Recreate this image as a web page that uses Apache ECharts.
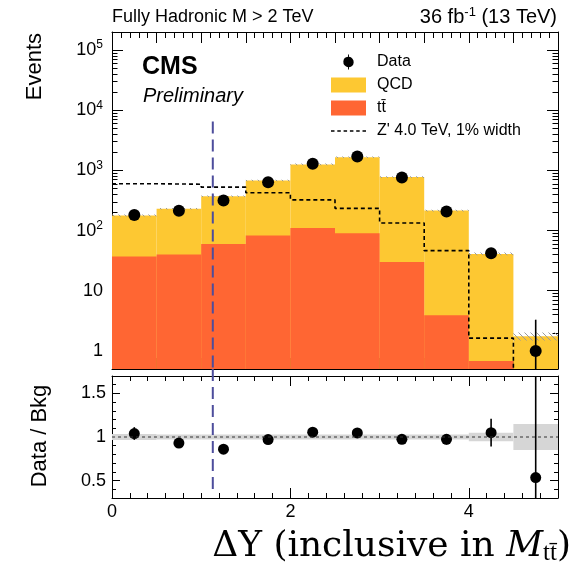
<!DOCTYPE html>
<html>
<head>
<meta charset="utf-8">
<script src="https://cdn.jsdelivr.net/npm/echarts@6/dist/echarts.min.js"></script>
<style>
html,body{margin:0;padding:0;background:#fff}
#main{width:578px;height:569px}
</style>
</head>
<body>
<div id="main"></div>
<script>
// histogram binning in delta Y
var binEdges = [0, 0.5, 1, 1.5, 2, 2.5, 3, 3.5, 4, 4.5, 5];
var binCenters = [0.25, 0.75, 1.25, 1.75, 2.25, 2.75, 3.25, 3.75, 4.25, 4.75];

// stacked backgrounds (events per bin)
var ttbar = [37, 40, 60, 83, 110, 90, 30, 3.9, 0.68, 0];
var qcd = [141, 190, 312, 597, 1150, 1570, 745, 211, 40.3, 1.75];
var bkgUnc = [0.035, 0.03, 0.03, 0.03, 0.03, 0.03, 0.03, 0.03, 0.05, 0.15];

// signal template Z' 4 TeV (dashed step line)
var zprime = [600, 590, 527, 425, 324, 234, 134, 46.4, 1.63, 0.1];

// observed data
var dataCounts = [182, 213, 316, 638, 1290, 1700, 760, 208, 42, 1];
var dataErrUp = [14, 15, 18, 25, 36, 41, 28, 14, 7, 2.3];
var dataErrDown = [13, 14, 17, 25, 35, 41, 27, 14, 6, 1];

// ratio panel
var ratio = [1.04, 0.93, 0.86, 0.97, 1.055, 1.047, 0.973, 0.973, 1.05, 0.535];
var ratioErr = [0.073, 0.048, 0.04, 0.035, 0.03, 0.03, 0.035, 0.06, 0.16, 1.5];

// vertical dashed marker
var cutX = 1.13;
var cutTopEvents = 6500;
var cutBottomRatio = 0.4;

// tick positions / labels
var logMajorTicks = [1, 10, 100, 1000, 10000, 100000];
var ratioLabelTicks = [0.5, 1, 1.5];
var xLabelTicks = [0, 2, 4];

var yMin = 0.5, yMax = 2e5;
var rMin = 0.3, rMax = 1.7;

var logMinorTicks = [];
for (var e = -1; e <= 5; e++) {
  for (var m = 2; m <= 9; m++) logMinorTicks.push(+(m * Math.pow(10, e)).toPrecision(3));
}
var upperXMajor = [], upperXMinor = [], lowerXMinor = [], ratioMinor = [];
for (var k = 0; k <= 10; k++) upperXMajor.push(k * 0.5);
for (k = 0; k <= 50; k++) upperXMinor.push(+(k * 0.1).toFixed(1));
for (k = 0; k <= 25; k++) lowerXMinor.push(+(k * 0.2).toFixed(1));
for (k = 3; k <= 17; k++) ratioMinor.push(+(k * 0.1).toFixed(1));

var FONT = 'Liberation Sans, Arial, Helvetica, sans-serif';
var SERIF = 'DejaVu Serif, Liberation Serif, serif';
var YELLOW = '#fdc832', ORANGE = '#ff6633', BAND = '#d6d6d6', BLUE = '#4d4d9c';

var totalBkg = qcd.map(function (v, i) { return v + ttbar[i]; });

// hatch pattern for stat. unc. on stack
var hatch = document.createElement('canvas');
hatch.width = 6; hatch.height = 6;
var hc = hatch.getContext('2d');
hc.strokeStyle = '#9a9a9a'; hc.lineWidth = 1;
hc.beginPath(); hc.moveTo(0, 0); hc.lineTo(6, 6); hc.moveTo(-1, 5); hc.lineTo(1, 7); hc.moveTo(5, -1); hc.lineTo(7, 1); hc.stroke();

function tickAxis(grid, pos, type, min, max, ticks, len, line) {
  var a = {
    type: type, gridIndex: grid, position: pos, min: min, max: max,
    axisLine: {show: line, onZero: false, lineStyle: {color: '#000', width: 1}},
    axisTick: {show: true, inside: true, length: len, customValues: ticks, lineStyle: {color: '#000', width: 1}},
    axisLabel: {show: false},
    splitLine: {show: false},
    silent: true
  };
  if (type === 'log') a.logBase = 10;
  return a;
}

var xAxes = [
  tickAxis(0, 'bottom', 'value', 0, 5, upperXMajor, 11, true),
  tickAxis(0, 'bottom', 'value', 0, 5, upperXMinor, 6, false),
  tickAxis(0, 'top', 'value', 0, 5, upperXMajor, 11, true),
  tickAxis(0, 'top', 'value', 0, 5, upperXMinor, 6, false),
  tickAxis(1, 'bottom', 'value', 0, 5, xLabelTicks, 10, true),
  tickAxis(1, 'bottom', 'value', 0, 5, lowerXMinor, 5, false),
  tickAxis(1, 'top', 'value', 0, 5, xLabelTicks, 10, true),
  tickAxis(1, 'top', 'value', 0, 5, lowerXMinor, 5, false)
];
xAxes[4].axisLabel = {show: true, customValues: xLabelTicks, margin: 5,
  fontFamily: FONT, fontSize: 18, color: '#000'};

var yAxes = [
  tickAxis(0, 'left', 'log', yMin, yMax, logMajorTicks, 11, true),
  tickAxis(0, 'left', 'log', yMin, yMax, logMinorTicks, 5.5, false),
  tickAxis(0, 'right', 'log', yMin, yMax, logMajorTicks, 11, true),
  tickAxis(0, 'right', 'log', yMin, yMax, logMinorTicks, 5.5, false),
  tickAxis(1, 'left', 'value', rMin, rMax, ratioLabelTicks, 8, true),
  tickAxis(1, 'left', 'value', rMin, rMax, ratioMinor, 4, false),
  tickAxis(1, 'right', 'value', rMin, rMax, ratioLabelTicks, 8, true),
  tickAxis(1, 'right', 'value', rMin, rMax, ratioMinor, 4, false)
];
yAxes[0].axisLabel = {
  show: true, customValues: logMajorTicks, margin: 9, color: '#000', fontFamily: FONT,
  formatter: function (v) {
    var n = Math.round(Math.log10(v));
    if (n <= 1) return '{b|' + Math.round(v) + '}';
    return '{b|10}{sup|' + n + '}';
  },
  rich: {
    b: {fontFamily: FONT, fontSize: 18, color: '#000'},
    sup: {fontFamily: FONT, fontSize: 12, color: '#000', padding: [0, 0, 10, 0]}
  }
};
yAxes[4].axisLabel = {show: true, customValues: ratioLabelTicks, margin: 6,
  fontFamily: FONT, fontSize: 18, color: '#000'};

function histSeries(name, values, color, xi, yi, base) {
  return {
    name: name, type: 'custom', xAxisIndex: xi, yAxisIndex: yi, clip: true, silent: true,
    itemStyle: {color: color},
    data: values.map(function (v, i) { return [binEdges[i], binEdges[i + 1], v]; })
      .filter(function (d) { return d[2] > 0; }),
    encode: {x: [0, 1], y: 2},
    renderItem: function (params, api) {
      var p0 = api.coord([api.value(0), api.value(2)]);
      var p1 = api.coord([api.value(1), base]);
      return {type: 'rect', shape: {x: p0[0], y: p0[1], width: p1[0] - p0[0], height: p1[1] - p0[1]},
        style: {fill: color}};
    }
  };
}

function bandSeries(name, center, unc, fill, xi, yi) {
  return {
    name: name, type: 'custom', xAxisIndex: xi, yAxisIndex: yi, clip: true, silent: true,
    data: center.map(function (c, i) { return [binEdges[i], binEdges[i + 1], c * (1 - unc[i]), c * (1 + unc[i])]; }),
    encode: {x: [0, 1], y: [2, 3]},
    renderItem: function (params, api) {
      var p0 = api.coord([api.value(0), api.value(3)]);
      var p1 = api.coord([api.value(1), api.value(2)]);
      return {type: 'rect', shape: {x: p0[0], y: p0[1], width: p1[0] - p0[0], height: p1[1] - p0[1]},
        style: {fill: fill}};
    }
  };
}

function errSeries(name, vals, lo, hi, xi, yi, ymin, ymax) {
  return {
    name: name, type: 'custom', xAxisIndex: xi, yAxisIndex: yi, clip: true, silent: true,
    data: vals.map(function (v, i) {
      return [binCenters[i], Math.max(v - lo[i], ymin), Math.min(v + hi[i], ymax)];
    }),
    encode: {x: 0, y: [1, 2]},
    renderItem: function (params, api) {
      var a = api.coord([api.value(0), api.value(1)]);
      var b = api.coord([api.value(0), api.value(2)]);
      return {type: 'line', shape: {x1: a[0], y1: a[1], x2: b[0], y2: b[1]},
        style: {stroke: '#000', lineWidth: 1.6}};
    }
  };
}

var zLine = binEdges.slice(0, 10).map(function (x, i) { return [x, zprime[i]]; });
zLine.push([5, zprime[9]]);

var series = [
  histSeries('QCD', totalBkg, YELLOW, 0, 0, yMin),
  histSeries('t\u0074\u0304', ttbar, ORANGE, 0, 0, yMin),
  bandSeries('stackUnc', totalBkg, bkgUnc, {image: hatch, repeat: 'repeat'}, 0, 0),
  {
    name: "Z' 4.0 TeV, 1% width", type: 'line', xAxisIndex: 0, yAxisIndex: 0, step: 'end',
    data: zLine, symbol: 'none', showSymbol: false, clip: true, silent: true,
    itemStyle: {color: '#000'},
    lineStyle: {color: '#000', width: 1.6, type: [4, 3]}
  },
  {
    name: 'cut', type: 'line', xAxisIndex: 0, yAxisIndex: 0, symbol: 'none', silent: true,
    data: [[cutX, cutTopEvents], [cutX, yMin]],
    lineStyle: {color: BLUE, width: 2, type: [12, 6]}
  },
  errSeries('dataErr', dataCounts, dataErrDown, dataErrUp, 0, 0, yMin, yMax),
  {
    name: 'Data', type: 'scatter', xAxisIndex: 0, yAxisIndex: 0, symbolSize: 12, silent: true,
    itemStyle: {color: '#000', opacity: 1},
    data: dataCounts.map(function (v, i) { return [binCenters[i], v]; })
  },
  // ratio panel
  bandSeries('ratioUnc', [1, 1, 1, 1, 1, 1, 1, 1, 1, 1], bkgUnc, BAND, 4, 4),
  {
    name: 'unity', type: 'line', xAxisIndex: 4, yAxisIndex: 4, symbol: 'none', silent: true,
    data: [[0, 1], [5, 1]],
    lineStyle: {color: '#333', width: 1, type: [3, 3]}
  },
  {
    name: 'cut2', type: 'line', xAxisIndex: 4, yAxisIndex: 4, symbol: 'none', silent: true, clip: false,
    data: [[cutX, 1.78], [cutX, cutBottomRatio]],
    lineStyle: {color: BLUE, width: 2, type: [12, 6]}
  },
  errSeries('ratioErr', ratio, ratioErr, ratioErr, 4, 4, rMin, rMax),
  {
    name: 'ratio', type: 'scatter', xAxisIndex: 4, yAxisIndex: 4, symbolSize: 11, silent: true,
    itemStyle: {color: '#000', opacity: 1},
    data: ratio.map(function (v, i) { return [binCenters[i], v]; })
  }
];

var dataIcon = 'path://M5.5,0H6.5V2.52A5.5,5.5,0,0,1,6.5,13.48V16H5.5V13.48A5.5,5.5,0,0,1,5.5,2.52Z';
var dashIcon = 'path://M0,0h3.5v1.6h-3.5zM6.3,0h3.5v1.6h-3.5zM12.6,0h3.5v1.6h-3.5zM18.9,0h3.5v1.6h-3.5zM25.2,0h3.5v1.6h-3.5zM31.5,0h3.5v1.6h-3.5z';

var chart = echarts.init(document.getElementById('main'), null, {renderer: 'canvas'});
chart.setOption({
  animation: false,
  backgroundColor: '#fff',
  grid: [
    {left: 112, right: 20, top: 32, height: 337},
    {left: 112, right: 20, top: 376, height: 122}
  ],
  xAxis: xAxes,
  yAxis: yAxes,
  legend: {
    orient: 'vertical', left: 331, top: 54, itemWidth: 35, itemHeight: 15, itemGap: 7,
    selectedMode: false, padding: 0,
    textStyle: {fontFamily: FONT, fontSize: 16, color: '#000', padding: [0, 0, 0, 6]},
    data: [
      {name: 'Data', icon: dataIcon},
      {name: 'QCD', icon: 'rect'},
      {name: 't\u0074\u0304', icon: 'rect'},
      {name: "Z' 4.0 TeV, 1% width", icon: dashIcon, itemStyle: {color: '#000'}}
    ]
  },
  title: [
    {text: 'Fully Hadronic M > 2 TeV', left: 112, top: 8, padding: 0,
      textStyle: {fontFamily: FONT, fontSize: 18, fontWeight: 'normal', color: '#000'}},
    {text: '{b|36 fb}{sup|-1}{b| (13 TeV)}', right: 21, top: 6, padding: 0,
      textStyle: {fontFamily: FONT, fontSize: 20, fontWeight: 'normal', color: '#000',
        rich: {
          b: {fontFamily: FONT, fontSize: 20, fontWeight: 'normal', color: '#000'},
          sup: {fontFamily: FONT, fontSize: 13, fontWeight: 'normal', color: '#000', padding: [0, 0, 10, 0]}
        }}},
    {text: 'CMS', left: 142, top: 55, padding: 0,
      textStyle: {fontFamily: FONT, fontSize: 25, fontWeight: 'bold', color: '#000'}},
    {text: 'Preliminary', left: 143, top: 86, padding: 0,
      textStyle: {fontFamily: FONT, fontSize: 20, fontStyle: 'italic', fontWeight: 'normal', color: '#000'}},
    {text: '{b|\u0394Y (inclusive in }{it|M}{sub|t\u0074\u0304}{b|)}', right: 7, top: 527, padding: 0,
      textStyle: {
        fontWeight: 'normal',
        rich: {
          b: {fontFamily: SERIF, fontSize: 36, fontWeight: 'normal', color: '#000'},
          it: {fontFamily: SERIF, fontSize: 36, fontStyle: 'italic', fontWeight: 'normal', color: '#000'},
          sub: {fontFamily: 'Liberation Serif, serif', fontSize: 25, fontWeight: 'normal', color: '#000', padding: [14, 0, 0, 0]}
        }
      }}
  ],
  graphic: [
    {type: 'text', x: 35, y: 33, rotation: Math.PI / 2, silent: true,
      style: {text: 'Events', fontFamily: FONT, fontSize: 22, fill: '#000', align: 'right', verticalAlign: 'middle'}},
    {type: 'text', x: 40, y: 436, rotation: Math.PI / 2, silent: true,
      style: {text: 'Data / Bkg', fontFamily: FONT, fontSize: 22, fill: '#000', align: 'center', verticalAlign: 'middle'}}
  ],
  series: series
});
</script>
</body>
</html>
